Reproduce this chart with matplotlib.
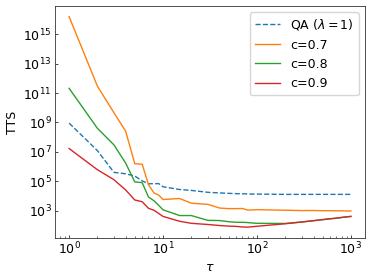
import numpy as np
import matplotlib
matplotlib.use("Agg")
import matplotlib.pyplot as plt
from matplotlib.ticker import NullLocator

plt.rcParams['font.size'] = 9

tau = [1, 2, 3, 4, 5, 6, 7, 8, 9, 10, 15, 20, 30, 40, 50, 60, 70, 80, 90, 100,
       200, 300, 400, 500, 600, 700, 800, 900, 1000]

# log10(TTS)
qa_log = [8.95, 7.08, 5.6, 5.5, 5.35, 5.02, 4.82, 4.83, 4.83, 4.62, 4.43, 4.37, 4.24, 4.2, 4.17,
          4.15, 4.14, 4.13, 4.12, 4.12, 4.1, 4.1, 4.1, 4.1, 4.1, 4.1, 4.1, 4.1, 4.1]
c07_log = [16.2, 11.47, 9.66, 8.4, 6.19, 6.15, 4.76, 4.2, 4.05, 3.75, 3.82, 3.5, 3.42, 3.17, 3.13,
           3.13, 3.14, 3.03, 3.04, 3.06, 3.02, 3.0, 3.0, 2.99, 2.99, 2.98, 2.98, 2.97, 2.97]
c08_log = [11.32, 8.6, 7.47, 6.23, 4.95, 4.9, 3.92, 3.67, 3.35, 3.05, 2.66, 2.66, 2.33, 2.32, 2.24,
           2.2, 2.2, 2.18, 2.15, 2.13, 2.12, 2.22, 2.31, 2.38, 2.44, 2.48, 2.53, 2.57, 2.6]
c09_log = [7.22, 5.78, 5.1, 4.4, 3.72, 3.6, 3.15, 3.02, 2.8, 2.6, 2.27, 2.13, 2.05, 1.98, 1.94,
           1.92, 1.88, 1.87, 1.9, 1.93, 2.1, 2.22, 2.31, 2.38, 2.44, 2.48, 2.53, 2.57, 2.6]

fig = plt.figure(figsize=(3.73, 2.77), dpi=100)
ax = fig.add_axes([0.1475, 0.142, 0.831, 0.836])

ax.plot(tau, 10**np.array(qa_log), '--', color='C0', lw=1, label=r'QA ($\lambda=1$)')
ax.plot(tau, 10**np.array(c07_log), color='C1', lw=1, label='c=0.7')
ax.plot(tau, 10**np.array(c08_log), color='C2', lw=1, label='c=0.8')
ax.plot(tau, 10**np.array(c09_log), color='C3', lw=1, label='c=0.9')

ax.set_xscale('log')
ax.set_yscale('log')
ax.set_yticks([1e3, 1e5, 1e7, 1e9, 1e11, 1e13, 1e15])
ax.yaxis.set_minor_locator(NullLocator())
ax.tick_params(which='major', direction='in', length=2.5, width=0.5, pad=2.5)
ax.tick_params(which='minor', direction='in', length=1.5, width=0.4)
for s in ax.spines.values():
    s.set_linewidth(0.6)
    s.set_color('#333333')
ax.set_xlabel(r'$\tau$', labelpad=2)
ax.set_ylabel('TTS', labelpad=3)
ax.legend(loc='upper right', fontsize=9)

fig.savefig('out.png', dpi=100)
